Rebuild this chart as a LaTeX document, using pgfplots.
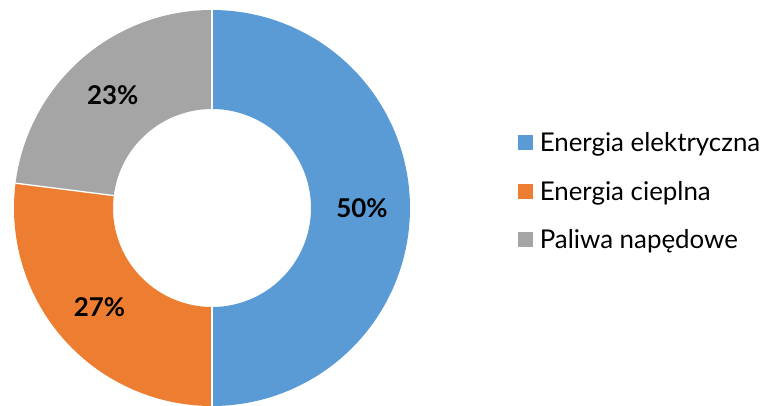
\documentclass[border=0pt]{standalone}
\usepackage{fontspec}
\setmainfont{Lato}
\usepackage{pgfplots}
\usepackage{pgfplotstable}
\pgfplotsset{compat=1.18}
\definecolor{cBlue}{HTML}{5B9BD5}
\definecolor{cOrange}{HTML}{ED7D31}
\definecolor{cGray}{HTML}{A5A5A5}
\pgfplotstableread[col sep=comma]{
label,value
Energia elektryczna,50
Energia cieplna,27
Paliwa napędowe,23
}\shares
\def\fnt{\fontsize{19.4}{23}\selectfont}
\begin{document}%
\begin{tikzpicture}
\pgfplotstablegetelem{0}{value}\of\shares \let\vA\pgfplotsretval
\pgfplotstablegetelem{1}{value}\of\shares \let\vB\pgfplotsretval
\pgfplotstablegetelem{2}{value}\of\shares \let\vC\pgfplotsretval
\pgfplotstablegetelem{0}{label}\of\shares \let\lA\pgfplotsretval
\pgfplotstablegetelem{1}{label}\of\shares \let\lB\pgfplotsretval
\pgfplotstablegetelem{2}{label}\of\shares \let\lC\pgfplotsretval
\pgfmathsetmacro\aA{90}
\pgfmathsetmacro\aB{\aA-3.6*\vA}
\pgfmathsetmacro\aC{\aB-3.6*\vB}
\pgfmathsetmacro\aD{\aC-3.6*\vC}
\pgfmathsetmacro\mA{(\aA+\aB)/2}
\pgfmathsetmacro\mB{(\aB+\aC)/2}
\pgfmathsetmacro\mC{(\aC+\aD)/2}
\begin{axis}[x=0.75pt,y=0.75pt,xmin=0,xmax=771,ymin=0,ymax=405,
  hide axis, anchor=south west, at={(0,0)}]
\addplot[cBlue, line width=74.25pt, domain=\aB:\aA, samples=150] ({212+148.5*cos(x)},{197+148.5*sin(x)});
\addplot[cOrange, line width=74.25pt, domain=\aC:\aB, samples=150] ({212+148.5*cos(x)},{197+148.5*sin(x)});
\addplot[cGray, line width=74.25pt, domain=\aD:\aC, samples=150] ({212+148.5*cos(x)},{197+148.5*sin(x)});
\addplot[white, line width=1pt, domain=99:198, samples=2] ({212+x*cos(\aA)},{197+x*sin(\aA)});
\addplot[white, line width=1pt, domain=99:198, samples=2] ({212+x*cos(\aB)},{197+x*sin(\aB)});
\addplot[white, line width=1pt, domain=99:198, samples=2] ({212+x*cos(\aC)},{197+x*sin(\aC)});
\node[font=\bfseries\fnt, inner sep=0] at (axis cs:{212+150*cos(\mA)},{197+150*sin(\mA)}) {\vA\%};
\node[font=\bfseries\fnt, inner sep=0] at (axis cs:{212+150*cos(\mB)},{197+150*sin(\mB)}) {\vB\%};
\node[font=\bfseries\fnt, inner sep=0] at (axis cs:{212+150*cos(\mC)},{197+150*sin(\mC)}) {\vC\%};
\fill[cBlue] (axis cs:518,270) rectangle (axis cs:533,255);
\fill[cOrange] (axis cs:518,221) rectangle (axis cs:533,206);
\fill[cGray] (axis cs:518,173) rectangle (axis cs:533,158);
\node[font=\fnt, inner sep=0, anchor=base west] at (axis cs:539.5,254) {\lA};
\node[font=\fnt, inner sep=0, anchor=base west] at (axis cs:539.5,205) {\lB};
\node[font=\fnt, inner sep=0, anchor=base west] at (axis cs:539.5,157) {\lC};
\end{axis}
\pgfresetboundingbox
\path[use as bounding box] (0,0) rectangle (578.25pt,303.75pt);
\end{tikzpicture}%
\end{document}
